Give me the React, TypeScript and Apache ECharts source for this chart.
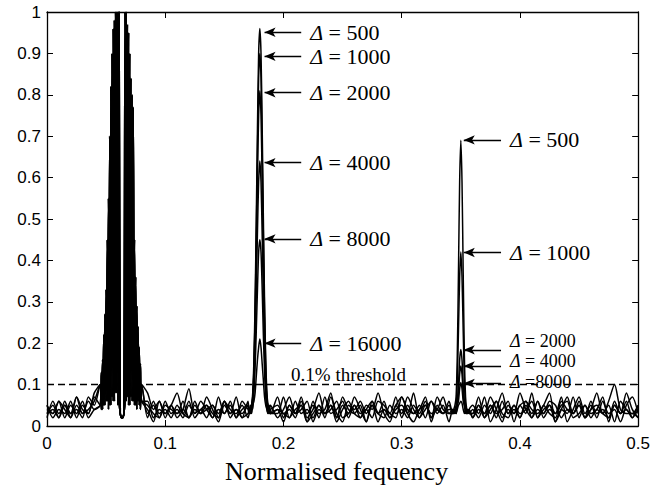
import React, { useEffect, useRef } from "react";
import * as echarts from "echarts";

// Sample positions (normalised frequency) per segment: [start, step, count]
const segN1 = [0, 0.005, 9];
const segP1 = [0.045, 0.001, 36];
const segN2 = [0.085, 0.005, 18];
const segP2 = [0.171, 0.001, 19];
const segN3 = [0.195, 0.005, 30];
const segP3 = [0.343, 0.001, 15];
const segN4 = [0.36, 0.005, 29];

// Shared strong component near 0.06 (values in %), two interleaved traces
const peak1A = [10,4,16,5,27,6,45,4,70,5,90,6,98,8,100,5,100,3,2,2,3,6,100,7,95,5,84,6,77,5,36,4,24,5,15,6];
const peak1B = [5,13,4,22,5,33,6,55,5,82,7,96,6,100,8,100,6,3,2,2,3,100,6,97,5,90,7,80,6,45,5,29,6,19,4,10];

// Per-Δ spectra (values in %)
const d500 = {
  n1: [3,5,2,6,3,4,2,7,5],
  n2: [6,2,4,3,5,2,4,9,3,4,2,5,3,6,2,4,3,5],
  p2: [3,4,5,8,16,30,50,72,90,96,90,72,50,30,16,8,5,4,3],
  n3: [4,1,5,3,7,2,4,8,3,5,1,4,6,3,2,5,4,8,3,1,5,3,7,4,2,5,3,4,7,3],
  p3: [3,4,5,7,17,37,59,69,59,37,17,7,4,3,4],
  n4: [2,5,3,7,4,1,5,3,8,4,2,6,3,5,1,4,7,3,5,2,4,8,3,5,1,6,4,3,5],
};
const d1000 = {
  n1: [5,2,4,3,6,2,5,3,7],
  n2: [3,5,2,6,3,4,2,5,3,6,4,2,7,3,5,2,6,4],
  p2: [3,4,4,7,14,27,46,66,84,90,84,66,46,27,14,7,4,4,3],
  n3: [3,7,2,4,5,1,6,3,4,8,2,5,3,7,4,1,5,3,6,2,4,5,3,8,2,4,6,3,5,1],
  p3: [4,3,4,5,11,23,36,42,36,23,11,5,4,3,4],
  n4: [5,3,7,1,4,8,3,5,2,6,4,3,5,8,1,4,3,7,2,5,3,4,7,1,5,3,8,4,2],
};
const d2000 = {
  n1: [2,6,3,5,2,7,3,4,6],
  n2: [4,1,6,3,5,8,3,2,5,3,7,4,1,5,3,7,2,3],
  p2: [4,3,5,7,13,25,41,60,75,81,75,59,39,23,12,6,5,3,4],
  n3: [5,3,4,2,6,3,5,2,7,3,4,6,2,5,3,4,2,6,5,3,2,7,4,3,5,2,6,4,3,5],
  p3: [3,4,3,4,6,10,16,18.5,16,10,6,4,3,4,3],
  n4: [3,7,2,5,3,4,6,1,5,3,8,2,4,5,3,7,1,4,7,3,5,2,6,3,4,1,5,7,3],
};
const d4000 = {
  n1: [4,3,6,2,5,3,6,2,4],
  n2: [2,6,3,4,2,5,3,6,2,4,5,3,2,6,4,3,5,2],
  p2: [3,5,4,6,10,19,32,47,59,64,59,46,31,18,9,5,4,3,5],
  n3: [2,4,7,3,5,1,3,5,2,7,3,1,5,4,6,3,5,1,4,3,7,2,5,3,4,7,1,5,3,4],
  p3: [4,3,4,3,5,8,12.5,14.5,12.5,8,5,4,3,4,3],
  n4: [4,2,5,3,6,2,4,3,5,6,2,4,3,6,5,2,4,3,6,2,4,5,3,2,6,3,4,2,4],
};
const d8000 = {
  n1: [3,4,2,5,3,7,4,3,8],
  n2: [5,3,2,5,4,3,6,2,4,3,5,2,4,3,6,2,4,5],
  p2: [4,3,5,4,8,14,23,33,42,45,42,33,22,13,7,4,3,5,3],
  n3: [4,3,2,6,3,4,2,5,3,4,6,2,3,5,2,4,6,3,2,5,3,4,2,5,3,6,2,4,3,6],
  p3: [3,4,3,4,5,6,9,10.5,9,6,5,3,4,3,4],
  n4: [2,4,3,5,2,6,3,4,2,5,3,6,2,4,3,5,6,2,3,5,2,4,3,6,10,4,3,3,2],
};
const d16000 = {
  n1: [5,3,6,4,2,5,3,6,4],
  n2: [8,4,6,2,5,3,4,2,6,3,4,5,2,6,3,4,2,6],
  p2: [3,4,3,5,6,8,12,16,19,21,19,15,11,7,5,4,3,4,3],
  n3: [7,2,5,3,4,6,1,4,3,5,2,7,4,3,5,1,6,3,4,2,5,7,3,1,4,5,2,7,4,3],
  p3: [4,3,4,3,4,5,5.5,6,5.5,4,3,4,3,4,3],
  n4: [3,5,2,4,6,3,2,5,3,4,6,2,5,3,2,6,4,3,5,2,6,3,4,2,5,3,6,2,5],
};

const spectra = [d500, d1000, d2000, d4000, d8000, d16000];
const seriesNames = ["Δ = 500", "Δ = 1000", "Δ = 2000", "Δ = 4000", "Δ = 8000", "Δ = 16000"];

// Annotations
const peak2Labels = ["Δ = 500", "Δ = 1000", "Δ = 2000", "Δ = 4000", "Δ = 8000", "Δ = 16000"];
const peak2ArrowY = [0.951, 0.893, 0.805, 0.636, 0.452, 0.2];
const peak2ArrowX = [0.184, 0.215];
const peak3Labels = ["Δ = 500", "Δ = 1000", "Δ = 2000", "Δ = 4000", "Δ =8000"];
const peak3ArrowY = [0.691, 0.419, 0.184, 0.145, 0.103];
const peak3ArrowX = [0.3525, 0.384];
const peak3LabelLift = [0, 0, 9, 5, 1];
const thresholdValue = 0.1;
const thresholdLabel = "0.1% threshold";

const xTickLabels = ["0", "0.1", "0.2", "0.3", "0.4", "0.5"];
const xTitle = "Normalised fequency";

function samples(seg: number[]) {
  const [start, step, count] = seg;
  return Array.from({ length: count }, (_, i) => +(start + i * step).toFixed(4));
}

function buildData(d: any, p1: number[]) {
  const parts: [number[], number[]][] = [
    [samples(segN1), d.n1],
    [samples(segP1), p1],
    [samples(segN2), d.n2],
    [samples(segP2), d.p2],
    [samples(segN3), d.n3],
    [samples(segP3), d.p3],
    [samples(segN4), d.n4],
  ];
  const out: number[][] = [];
  parts.forEach(([xs, ys]) => xs.forEach((x, i) => out.push([x, ys[i] / 100])));
  return out;
}

const serif = "'Liberation Serif', 'Times New Roman', serif";
const sans = "'Liberation Sans', Arial, sans-serif";

function arrowItem(label: string, y: number, xs: number[], size: number, lift: number) {
  return [
    {
      name: label,
      coord: [xs[0], y],
      symbol: "arrow",
      symbolSize: [7, 11],
      label: {
        fontSize: size,
        lineHeight: 15,
        offset: [0, -lift],
        rich: { i: { fontSize: size, lineHeight: 15 } },
      },
    },
    { coord: [xs[1], y], symbol: "none" },
  ];
}

export default function App() {
  const ref = useRef<HTMLDivElement>(null);
  useEffect(() => {
    if (!ref.current) return;
    const chart = echarts.init(ref.current, undefined, { renderer: "svg" });
    const axisCommon = {
      type: "value",
      axisLine: { show: true, onZero: false, lineStyle: { color: "#000", width: 1.3 } },
      axisTick: { show: true, inside: true, length: 6, lineStyle: { color: "#000", width: 1 } },
      splitLine: { show: false },
    };
    const series = spectra.map((d, si) => {
      const marks: any[] = [];
      marks.push(arrowItem(peak2Labels[si], peak2ArrowY[si], peak2ArrowX, 22, 0));
      if (si < peak3Labels.length)
        marks.push(
          arrowItem(peak3Labels[si], peak3ArrowY[si], peak3ArrowX, si < 2 ? 22 : 18, peak3LabelLift[si])
        );
      if (si === 0) {
        marks.push({
          yAxis: thresholdValue,
          symbol: "none",
          lineStyle: { type: [7, 4], width: 1.3, color: "#000" },
          label: {
            show: true,
            position: "insideMiddleTop",
            formatter: thresholdLabel,
            fontFamily: serif,
            fontSize: 19,
            color: "#000",
            distance: 2,
            offset: [6, 0],
          },
        });
      }
      return {
        type: "line",
        name: seriesNames[si],
        data: buildData(d, si % 2 === 0 ? peak1A : peak1B),
        showSymbol: false,
        smooth: 0.25,
        lineStyle: { color: "#000", width: 1.5 },
        markLine: {
          silent: true,
          symbol: ["arrow", "none"],
          lineStyle: { type: "solid", color: "#000", width: 1.3 },
          label: {
            show: true,
            position: "end",
            distance: 9,
            color: "#000",
            fontFamily: serif,
            fontSize: 22,
            lineHeight: 16,
            formatter: (p: any) => String(p.name).replace("Δ", "{i|Δ}"),
            rich: { i: { fontStyle: "italic", fontFamily: serif, fontSize: 22, lineHeight: 16, color: "#000" } },
          },
          data: marks,
        },
      };
    });
    chart.setOption({
      animation: false,
      backgroundColor: "#fff",
      grid: { left: 47, right: 12, top: 12, bottom: 65, containLabel: false },
      xAxis: [
        {
          ...axisCommon,
          position: "bottom",
          min: 0,
          max: 0.5,
          interval: 0.1,
          name: xTitle,
          nameLocation: "middle",
          nameGap: 32,
          nameTextStyle: { fontFamily: serif, fontSize: 26, color: "#000", padding: [0, 12, 0, 0] },
          axisLabel: {
            fontFamily: sans,
            fontSize: 17,
            color: "#000",
            margin: 9,
            formatter: (v: number) => xTickLabels[Math.round(v * 10)] ?? String(v),
          },
        },
        { ...axisCommon, position: "top", min: 0, max: 0.5, interval: 0.1, axisLabel: { show: false } },
      ],
      yAxis: [
        {
          ...axisCommon,
          position: "left",
          min: 0,
          max: 1,
          interval: 0.1,
          axisLabel: { fontFamily: sans, fontSize: 17, color: "#000", margin: 6 },
        },
        { ...axisCommon, position: "right", min: 0, max: 1, interval: 0.1, axisLabel: { show: false } },
      ],
      series,
    });
    return () => chart.dispose();
  }, []);
  return <div ref={ref} style={{ position: "absolute", left: 0, top: 0, width: 653, height: 491 }} />;
}
